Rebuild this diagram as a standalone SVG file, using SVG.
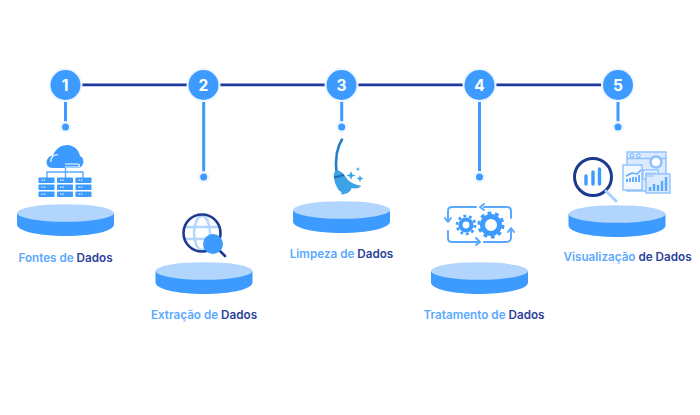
<svg xmlns="http://www.w3.org/2000/svg" width="700" height="415" viewBox="0 0 700 415">
<defs>
<style>
.lbl{font-family:"Inter","Liberation Sans",sans-serif;font-size:11.700px;font-weight:600;text-anchor:middle;fill:#5aa9ff}
.dk{fill:#2b4199}
.num{font-family:"Inter","Liberation Sans",sans-serif;font-size:15.500px;font-weight:700;fill:#fff;text-anchor:middle}
.stem{stroke:#3d9bff;stroke-width:3;fill:none}
.halo{fill:#eef6ff}
.blue{fill:#3d9bff}
.side{fill:#3d9bff}
.top{fill:#b1d5fd}
.dark{stroke:#1c3a8f;fill:none}
.ln{stroke:#5aa9ff;fill:none;stroke-width:2;stroke-linecap:round;stroke-linejoin:round}
</style>
<g id="platform">
<path class="side" d="M-48.500,9V20.500C-48.500,27 -27,32 0,32S48.500,27 48.500,20.500V9Z"/>
<ellipse class="top" cx="0" cy="9" rx="48.500" ry="8.800"/>
</g>
<g id="rack">
<rect x="0" y="0" width="16" height="5.500" rx="0.800" class="blue"/>
<rect x="0" y="7" width="16" height="5.500" rx="0.800" class="blue"/>
<rect x="0" y="14" width="16" height="5.500" rx="0.800" class="blue"/>
<path d="M3,2.700h4M3,9.700h4M3,16.700h4" stroke="#dcecff" stroke-width="1.300" stroke-dasharray="1.500 .8"/>
</g>
</defs>
<rect width="700" height="415" fill="#fff"/>
<g id="connectors">
<path d="M82,84.800H187M220,84.800H325.500M358,84.800H463M496,84.800H601" stroke="#1f3a9c" stroke-width="2.800" fill="none"/>
<path class="stem" d="M65.500,98V127M203.700,98V177M341.700,98V127M479.500,98V177M618,98V127"/>
</g>
<g id="node1">
<circle class="halo" cx="65.500" cy="85" r="17"/><circle class="blue" cx="65.500" cy="85" r="15"/>
<text class="num" x="65" y="90.500">1</text>
<circle class="halo" cx="65.500" cy="127" r="6"/><circle class="blue" cx="65.500" cy="127" r="3.500"/>
<path class="blue" d="M53,168C47,168 45.500,163 47,160C48,157 51,155.500 53,155.800C55,149 61,145 67,145C74,145 79,150 80,156C83,157 84,161 83,164C82,167 79,168 77,168Z"/>
<path d="M51,162C50,158 54,154 58,155M65,167H78C80,167 80,164 78,164H65" stroke="#fff" stroke-width="1.100" fill="none"/>
<path d="M47,178V172H83V178M65.500,168V178" stroke="#5aa9ff" stroke-width="1.400" fill="none"/>
<use href="#rack" x="38.500" y="177.500"/><use href="#rack" x="57" y="177.500"/><use href="#rack" x="75.500" y="177.500"/>
<use href="#platform" x="65.500" y="204"/>
<text class="lbl" x="65.500" y="261.500">Fontes de <tspan class="dk">Dados</tspan></text>
</g>
<g id="node2">
<circle class="halo" cx="203.500" cy="85" r="17"/><circle class="blue" cx="203.500" cy="85" r="15"/>
<text class="num" x="203.500" y="90.500">2</text>
<circle class="halo" cx="203.700" cy="177" r="6"/><circle class="blue" cx="203.700" cy="177" r="3.500"/>
<g fill="none" stroke="#b1d5fd" stroke-width="2.400">
<ellipse cx="202" cy="233" rx="8" ry="17"/><path d="M185,227H219M185,239H219"/>
</g>
<circle class="dark" cx="202" cy="233" r="18.500" stroke-width="2.600"/>
<path d="M219,250L225,256" stroke="#1c3a8f" stroke-width="2.600" stroke-linecap="round"/>
<circle class="blue" cx="213" cy="244" r="10"/>
<use href="#platform" x="204" y="262"/>
<text class="lbl" x="204" y="319">Extração de <tspan class="dk">Dados</tspan></text>
</g>
<g id="node3">
<circle class="halo" cx="341.500" cy="85" r="17"/><circle class="blue" cx="341.500" cy="85" r="15"/>
<text class="num" x="341.500" y="90.500">3</text>
<circle class="halo" cx="341.700" cy="127" r="6"/><circle class="blue" cx="341.700" cy="127" r="3.500"/>
<path d="M342,139.500C337,147 335,158 336.500,173" stroke="#1f7fc8" stroke-width="2.600" fill="none" stroke-linecap="round"/>
<path d="M334,178C333,173 335,170.500 338,170.500C342,171 345,176 348,180C351,183 356,185 361.500,186C359,188.500 355,189 351.500,188C351,192 346,194.500 341,194.500C342.500,192.500 341,191.500 339,190.500C336.500,187 334.500,183 334,178Z" fill="#3da2e6"/>
<path d="M334,177.500L344,175" stroke="#1f6fb8" stroke-width="2.200"/>
<path d="M351,171l1.200,3.300 3.300,1.200 -3.300,1.200 -1.200,3.300 -1.200,-3.300 -3.300,-1.200 3.300,-1.200ZM360,175l1,2.600 2.600,1 -2.600,1 -1,2.600 -1,-2.600 -2.600,-1 2.600,-1ZM358,167l.6,1.500 1.500,.6 -1.500,.6 -.6,1.500 -.6,-1.500 -1.500,-.6 1.500,-.6Z" fill="#3da2e6"/>
<use href="#platform" x="341.500" y="201"/>
<text class="lbl" x="341.500" y="258">Limpeza de <tspan class="dk">Dados</tspan></text>
</g>
<g id="node4">
<circle class="halo" cx="479.500" cy="85" r="17"/><circle class="blue" cx="479.500" cy="85" r="15"/>
<text class="num" x="479.500" y="90.500">4</text>
<circle class="halo" cx="479.500" cy="177" r="6"/><circle class="blue" cx="479.500" cy="177" r="3.500"/>
<path class="ln" d="M476,207H452C449,207 448,209 448,211V220M445,218L448,222L451,218M448,231V238C448,241 450,242 452,242H479M476,238L480,242L476,245M484,242H506C509,242 511,240 511,238V229M508,232L511,228L514,232M511,218V211C511,208 509,207 507,207H484M484,204L480,207L484,210"/>
<g fill="none" stroke="#3d9bff">
<circle cx="466" cy="225" r="5.500" stroke-width="4.200"/>
<circle cx="466" cy="225" r="9" stroke-width="2.600" stroke-dasharray="2.830 2.820"/>
<circle cx="491" cy="225" r="8.500" stroke-width="5"/>
<circle cx="491" cy="225" r="12" stroke-width="3" stroke-dasharray="3.770 3.770"/>
</g>
<use href="#platform" x="479.500" y="262"/>
<text class="lbl" x="484" y="319">Tratamento de <tspan class="dk">Dados</tspan></text>
</g>
<g id="node5">
<circle class="halo" cx="618" cy="85" r="17"/><circle class="blue" cx="618" cy="85" r="15"/>
<text class="num" x="618" y="90.500">5</text>
<circle class="halo" cx="618" cy="127" r="6"/><circle class="blue" cx="618" cy="127" r="3.500"/>
<circle class="dark" cx="593" cy="177" r="18.500" stroke-width="3"/>
<path d="M606,191L616,201" stroke="#a9d1fb" stroke-width="3" stroke-linecap="round"/>
<path d="M586,176V184M593,172V184M599.500,169V184" stroke="#3d9bff" stroke-width="3.400" stroke-linecap="round"/>
<g fill="#dbeafe" stroke="#8cc1fb" stroke-width="1.400">
<rect x="627" y="152" width="39" height="39"/>
<rect x="623" y="165" width="19" height="25" fill="#f3f8ff"/>
<rect x="643" y="170" width="15" height="9" fill="#f3f8ff"/>
<rect x="646" y="174" width="24" height="19" fill="#dbeafe"/>
</g>
<path d="M627,158.500H666" stroke="#8cc1fb" stroke-width="1.400"/>
<circle cx="632" cy="155.500" r="1.700" fill="#fff" stroke="#5aa9ff"/><circle cx="638.500" cy="155.500" r="1.700" fill="#fff" stroke="#5aa9ff"/>
<circle cx="656" cy="162" r="5.500" fill="#fff" stroke="#8cc1fb" stroke-width="2.500"/>
<path d="M626,176L632,173L637,174L641,170" stroke="#5aa9ff" stroke-width="1.400" fill="none"/>
<path d="M627,179V182M630,178V182M633,177V182M636,177V182M639,175V182" stroke="#5aa9ff" stroke-width="1.800"/>
<path d="M645,173H656M645,176H654" stroke="#8cc1fb" stroke-width="1"/>
<path d="M650,191V187M654,191V184M658,191V185M662,191V181M666,191V177" stroke="#5aa9ff" stroke-width="2.400"/>
<use href="#platform" x="617" y="205"/>
<text class="lbl" x="627.500" y="261">Visualização <tspan class="dk">de Dados</tspan></text>
</g>
</svg>
